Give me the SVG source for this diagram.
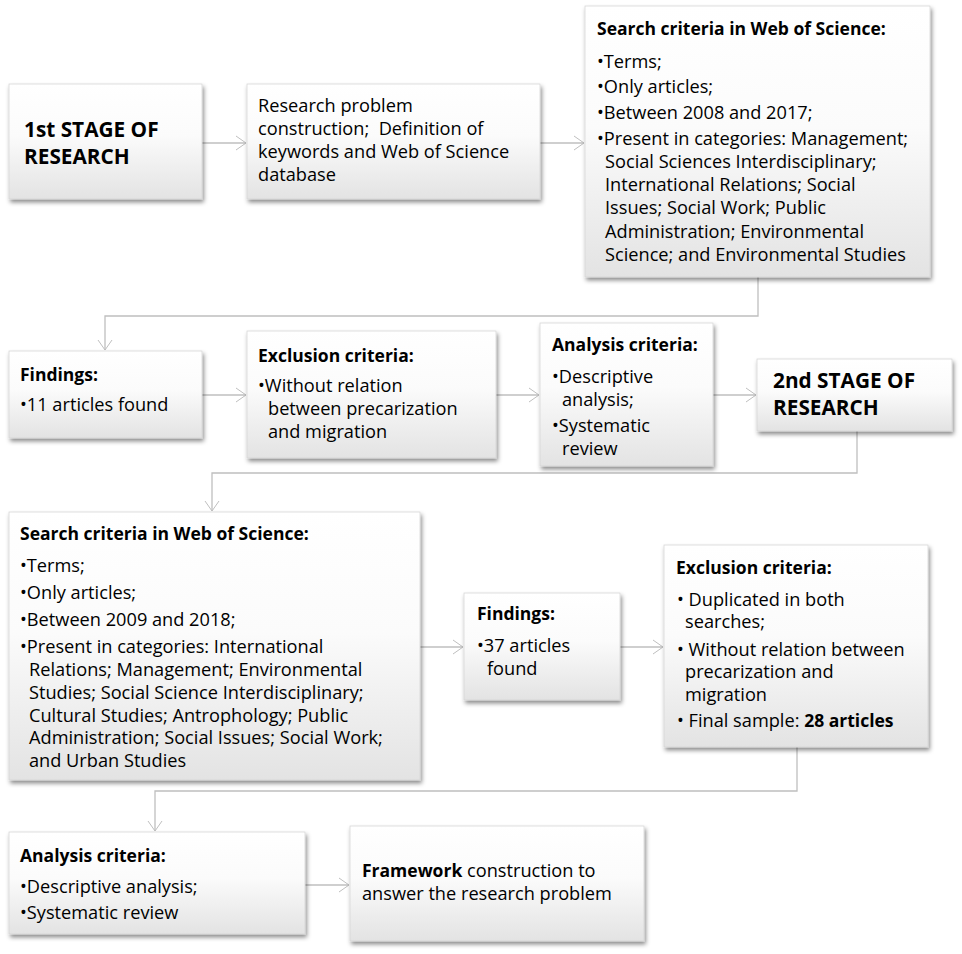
<svg xmlns="http://www.w3.org/2000/svg" width="962" height="954" viewBox="0 0 962 954">
<defs>
<linearGradient id="g" x1="0" y1="0" x2="0" y2="1">
<stop offset="0" stop-color="#ffffff"/>
<stop offset="0.45" stop-color="#fbfbfb"/>
<stop offset="1" stop-color="#e3e3e3"/>
</linearGradient>
<filter id="sh" x="-10%" y="-10%" width="130%" height="140%">
<feDropShadow dx="1.5" dy="3" stdDeviation="2" flood-color="#000" flood-opacity="0.45"/>
</filter>
<marker id="ar" markerUnits="userSpaceOnUse" markerWidth="14" markerHeight="18" refX="11" refY="8" orient="auto">
<path d="M1,1 L11,8 L1,15" fill="none" stroke="#bfbfbf" stroke-width="1"/>
</marker>
</defs>
<style>
.box{fill:url(#g);stroke:#d4d4d4;stroke-width:0.75;filter:url(#sh)}
text{font-family:"Open Sans","Liberation Sans",sans-serif;font-size:18.2px;fill:#000}
.b{font-weight:bold;font-size:17.5px}
.big{font-size:20.8px;font-weight:bold}
.c{fill:none;stroke:#bfbfbf;stroke-width:1.3}
</style>
<rect width="962" height="954" fill="#fff"/>
<g id="connectors">
<path class="c" d="M202,143 H246" marker-end="url(#ar)"/>
<path class="c" d="M540,143 H584" marker-end="url(#ar)"/>
<path class="c" d="M758,277 V316 H105 V350" marker-end="url(#ar)"/>
<path class="c" d="M202,395 H246" marker-end="url(#ar)"/>
<path class="c" d="M496,395 H539" marker-end="url(#ar)"/>
<path class="c" d="M713,395 H756" marker-end="url(#ar)"/>
<path class="c" d="M857,431 V473 H212 V511" marker-end="url(#ar)"/>
<path class="c" d="M420,647 H463" marker-end="url(#ar)"/>
<path class="c" d="M620,647 H663" marker-end="url(#ar)"/>
<path class="c" d="M797,747 V791 H155 V831" marker-end="url(#ar)"/>
<path class="c" d="M305,885 H349" marker-end="url(#ar)"/>
</g>
<g id="stage1">
<rect class="box" x="9" y="84" width="193" height="115"/>
<text class="big" x="24" y="137">1st STAGE OF</text>
<text class="big" x="24" y="164">RESEARCH</text>
</g>
<g id="problem">
<rect class="box" x="247" y="84" width="293" height="115"/>
<text x="258" y="112">Research problem</text>
<text x="258" y="135">construction;&#160; Definition of</text>
<text x="258" y="158">keywords and Web of Science</text>
<text x="258" y="181">database</text>
</g>
<g id="search1">
<rect class="box" x="585" y="6" width="345" height="271"/>
<text class="b" x="597" y="35">Search criteria in Web of Science:</text>
<text x="597" y="68">•Terms;</text>
<text x="597" y="93">•Only articles;</text>
<text x="597" y="119">•Between 2008 and 2017;</text>
<text x="597" y="145">•Present in categories: Management;</text>
<text x="605" y="168">Social Sciences Interdisciplinary;</text>
<text x="605" y="191">International Relations; Social</text>
<text x="605" y="214">Issues; Social Work; Public</text>
<text x="605" y="238">Administration; Environmental</text>
<text x="605" y="261">Science; and Environmental Studies</text>
</g>
<g id="findings1">
<rect class="box" x="9" y="351" width="193" height="87"/>
<text class="b" x="20" y="381">Findings:</text>
<text x="20" y="411">•11 articles found</text>
</g>
<g id="exclusion1">
<rect class="box" x="247" y="331" width="249" height="127"/>
<text class="b" x="258" y="362">Exclusion criteria:</text>
<text x="258" y="392">•Without relation</text>
<text x="268" y="415">between precarization</text>
<text x="268" y="438">and migration</text>
</g>
<g id="analysis1">
<rect class="box" x="540" y="323" width="173" height="143"/>
<text class="b" x="552" y="351">Analysis criteria:</text>
<text x="552" y="383">•Descriptive</text>
<text x="562" y="406">analysis;</text>
<text x="552" y="432">•Systematic</text>
<text x="562" y="455">review</text>
</g>
<g id="stage2">
<rect class="box" x="757" y="359" width="195" height="72"/>
<text class="big" x="773" y="388">2nd STAGE OF</text>
<text class="big" x="773" y="415">RESEARCH</text>
</g>
<g id="search2">
<rect class="box" x="9" y="512" width="411" height="268"/>
<text class="b" x="20" y="540">Search criteria in Web of Science:</text>
<text x="20" y="572">•Terms;</text>
<text x="20" y="599">•Only articles;</text>
<text x="20" y="626">•Between 2009 and 2018;</text>
<text x="20" y="653">•Present in categories: International</text>
<text x="29" y="676">Relations; Management; Environmental</text>
<text x="29" y="699">Studies; Social Science Interdisciplinary;</text>
<text x="29" y="722">Cultural Studies; Antrophology; Public</text>
<text x="29" y="744">Administration; Social Issues; Social Work;</text>
<text x="29" y="767">and Urban Studies</text>
</g>
<g id="findings2">
<rect class="box" x="464" y="593" width="156" height="107"/>
<text class="b" x="477" y="620">Findings:</text>
<text x="477" y="652">•37 articles</text>
<text x="487" y="675">found</text>
</g>
<g id="exclusion2">
<rect class="box" x="664" y="545" width="264" height="202"/>
<text class="b" x="676" y="574">Exclusion criteria:</text>
<text x="677" y="606">• Duplicated in both</text>
<text x="685" y="628">searches;</text>
<text x="677" y="656">• Without relation between</text>
<text x="685" y="678">precarization and</text>
<text x="685" y="701">migration</text>
<text x="677" y="727">• Final sample: <tspan class="b">28 articles</tspan></text>
</g>
<g id="analysis2">
<rect class="box" x="9" y="832" width="296" height="102"/>
<text class="b" x="20" y="862">Analysis criteria:</text>
<text x="20" y="893">•Descriptive analysis;</text>
<text x="20" y="919">•Systematic review</text>
</g>
<g id="framework">
<rect class="box" x="350" y="826" width="294" height="115"/>
<text x="362" y="877"><tspan class="b">Framework</tspan> construction to</text>
<text x="362" y="900">answer the research problem</text>
</g>
</svg>
